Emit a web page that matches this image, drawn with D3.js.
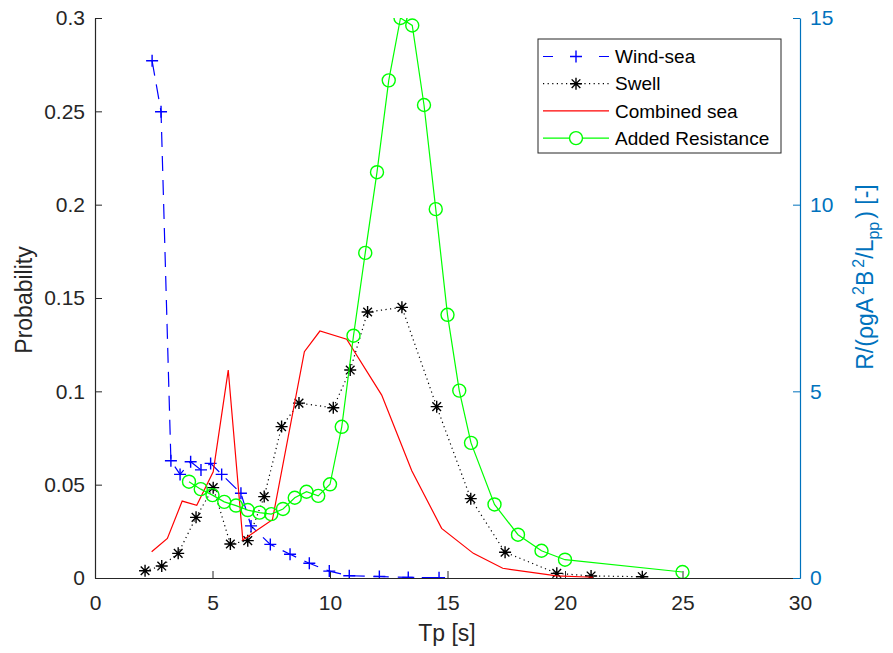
<!DOCTYPE html>
<html>
<head>
<meta charset="utf-8">
<script src="https://cdn.jsdelivr.net/npm/d3@7"></script>
<style>
  body { margin: 0; background: #fff; }
  svg { display: block; font-family: "Liberation Sans", Arial, Helvetica, sans-serif; }
  .axis text { font-size: 21px; }
</style>
</head>
<body>
<div id="chart"></div>
<script>
const width = 893;
const height = 653;

// Wind-sea
const windTp = [2.43, 2.81, 3.23, 3.62, 4.07, 4.51, 4.92, 5.39, 6.21, 6.64, 7.46, 8.30, 9.12, 9.97, 10.82, 12.10, 13.33, 14.64];
const windP = [0.2771, 0.2498, 0.0628, 0.0555, 0.0623, 0.0579, 0.0614, 0.0555, 0.0454, 0.0279, 0.0180, 0.0127, 0.0079, 0.0037, 0.0012, 0.0008, 0.0003, 0.0002];

// Swell
const swellTp = [2.13, 2.84, 3.54, 4.30, 5.03, 5.76, 6.50, 7.20, 7.94, 8.68, 10.14, 10.86, 11.60, 13.06, 14.54, 15.99, 17.45, 19.65, 21.11, 23.29];
const swellP = [0.0039, 0.0064, 0.0132, 0.0325, 0.0484, 0.0182, 0.0200, 0.0436, 0.0811, 0.0937, 0.0912, 0.1114, 0.1425, 0.1450, 0.0918, 0.0425, 0.0138, 0.0025, 0.0011, 0.0007];

// Combined sea
const combTp = [2.41, 3.08, 3.71, 4.33, 5.03, 5.67, 6.29, 7.55, 8.91, 9.57, 10.71, 12.20, 13.48, 14.75, 16.10, 17.35, 19.65, 21.19];
const combP = [0.0141, 0.0212, 0.0412, 0.0389, 0.0569, 0.1114, 0.0204, 0.0312, 0.1212, 0.1323, 0.1279, 0.0980, 0.0575, 0.0266, 0.0132, 0.0052, 0.0011, 0.0004];

// Added resistance (right axis)
const resTp = [4, 4.5, 5, 5.5, 6, 6.5, 7, 7.5, 8, 8.5, 9, 9.5, 10, 10.5, 11, 11.5, 12, 12.5, 13, 13.5, 14, 14.5, 15, 15.5, 16, 17, 18, 19, 20, 25];
const resR = [2.58, 2.38, 2.22, 2.04, 1.94, 1.82, 1.75, 1.71, 1.85, 2.15, 2.31, 2.20, 2.51, 4.05, 6.49, 8.71, 10.87, 13.33, 15.0, 14.8, 12.67, 9.88, 7.05, 5.02, 3.62, 1.97, 1.16, 0.73, 0.49, 0.16];

const xTicks = [0, 5, 10, 15, 20, 25, 30];
const yLeftTicks = [0, 0.05, 0.1, 0.15, 0.2, 0.25, 0.3];
const yRightTicks = [0, 5, 10, 15];

const legendNames = ["Wind-sea", "Swell", "Combined sea", "Added Resistance"];

const axisGray = "#262626";
const axisBlue = "#0072BD";

const xScale = d3.scaleLinear().domain([0, 30]).range([95, 800]);
const yLeft = d3.scaleLinear().domain([0, 0.3]).range([578, 18]);
const yRight = d3.scaleLinear().domain([0, 15]).range([578, 18]);

const zip = (xs, ys) => xs.map((x, i) => ({ x: x, y: ys[i] }));
const wind = zip(windTp, windP);
const swell = zip(swellTp, swellP);
const comb = zip(combTp, combP);
const res = zip(resTp, resR);

const lineLeft = d3.line().x(d => xScale(d.x)).y(d => yLeft(d.y));
const lineRight = d3.line().x(d => xScale(d.x)).y(d => yRight(d.y));

function plusPath(s) {
  return `M${-s},0H${s}M0,${-s}V${s}`;
}
function starPath(s) {
  const k = s * 0.72;
  return `M${-s},0H${s}M0,${-s}V${s}M${-k},${-k}L${k},${k}M${-k},${k}L${k},${-k}`;
}

const svg = d3.select("#chart").append("svg")
  .attr("width", width)
  .attr("height", height);

svg.append("defs").append("clipPath")
  .attr("id", "plotclip")
  .append("rect")
  .attr("x", 95).attr("y", 18)
  .attr("width", 705).attr("height", 560);

// axes
const fmtLeft = d => d === 0 ? "0" : String(+d.toFixed(2));

const gx = svg.append("g")
  .attr("class", "axis")
  .attr("transform", "translate(0,578)")
  .call(d3.axisBottom(xScale).tickValues(xTicks).tickSizeInner(-7).tickSizeOuter(0).tickPadding(17));

const gyl = svg.append("g")
  .attr("class", "axis")
  .attr("transform", "translate(95,0)")
  .call(d3.axisLeft(yLeft).tickValues(yLeftTicks).tickFormat(fmtLeft).tickSizeInner(-7).tickSizeOuter(0).tickPadding(10));

const gyr = svg.append("g")
  .attr("class", "axis")
  .attr("transform", "translate(800,0)")
  .call(d3.axisRight(yRight).tickValues(yRightTicks).tickSizeInner(-7).tickSizeOuter(0).tickPadding(10));

[gx, gyl].forEach(g => {
  g.select(".domain").attr("stroke", axisGray).attr("stroke-width", 1.2);
  g.selectAll(".tick line").attr("stroke", axisGray).attr("stroke-width", 1);
  g.selectAll("text").attr("fill", axisGray).attr("font-family", null);
});
gyr.select(".domain").attr("stroke", axisBlue).attr("stroke-width", 1.2);
gyr.selectAll(".tick line").attr("stroke", axisBlue);
gyr.selectAll("text").attr("fill", axisBlue).attr("font-family", null);

// data
const plot = svg.append("g").attr("clip-path", "url(#plotclip)");

plot.append("path")
  .attr("d", lineLeft(wind))
  .attr("fill", "none")
  .attr("stroke", "#0000ff")
  .attr("stroke-width", 1.2)
  .attr("stroke-dasharray", "15,9");

plot.selectAll(".windpt")
  .data(wind)
  .enter()
  .append("path")
  .attr("class", "windpt")
  .attr("transform", d => `translate(${xScale(d.x)},${yLeft(d.y)})`)
  .attr("d", plusPath(6))
  .attr("stroke", "#0000ff")
  .attr("stroke-width", 1.4);

plot.append("path")
  .attr("d", lineLeft(swell))
  .attr("fill", "none")
  .attr("stroke", "#000")
  .attr("stroke-width", 1.2)
  .attr("stroke-dasharray", "1.2,3.4");

plot.selectAll(".swellpt")
  .data(swell)
  .enter()
  .append("path")
  .attr("class", "swellpt")
  .attr("transform", d => `translate(${xScale(d.x)},${yLeft(d.y)})`)
  .attr("d", starPath(6))
  .attr("stroke", "#000")
  .attr("stroke-width", 1.4);

plot.append("path")
  .attr("d", lineLeft(comb))
  .attr("fill", "none")
  .attr("stroke", "#ff0000")
  .attr("stroke-width", 1.2);

plot.append("path")
  .attr("d", lineRight(res))
  .attr("fill", "none")
  .attr("stroke", "#00ff00")
  .attr("stroke-width", 1.2);

plot.selectAll(".respt")
  .data(res)
  .enter()
  .append("circle")
  .attr("class", "respt")
  .attr("cx", d => xScale(d.x))
  .attr("cy", d => yRight(d.y))
  .attr("r", 6.5)
  .attr("fill", "none")
  .attr("stroke", "#00ff00")
  .attr("stroke-width", 1.4);

// axis labels
svg.append("text")
  .attr("x", 447).attr("y", 641)
  .attr("text-anchor", "middle")
  .attr("font-size", 23)
  .attr("fill", axisGray)
  .text("Tp [s]");

svg.append("text")
  .attr("transform", "translate(32,300) rotate(-90)")
  .attr("text-anchor", "middle")
  .attr("font-size", 23)
  .attr("fill", axisGray)
  .text("Probability");

const rl = svg.append("text")
  .attr("transform", "translate(873,277) rotate(-90)")
  .attr("text-anchor", "middle")
  .attr("font-size", 23)
  .attr("fill", axisBlue);
rl.append("tspan").text("R/(\u03C1gA");
rl.append("tspan").attr("font-size", 16).attr("dy", -9).attr("dx", 3).text("2");
rl.append("tspan").attr("dy", 9).text("B");
rl.append("tspan").attr("font-size", 16).attr("dy", -9).attr("dx", 3).text("2");
rl.append("tspan").attr("dy", 9).text("/L");
rl.append("tspan").attr("font-size", 16).attr("dy", 6).text("pp");
rl.append("tspan").attr("dy", -6).attr("dx", 3).text(") [-]");

// legend
const legend = svg.append("g");
legend.append("rect")
  .attr("x", 538).attr("y", 39)
  .attr("width", 243).attr("height", 114)
  .attr("fill", "#fff")
  .attr("stroke", axisGray)
  .attr("stroke-width", 1);

const rowY = i => 56.5 + i * 27.2;
const lx0 = 543, lx1 = 609, lxm = 576;

legend.append("line")
  .attr("x1", lx0).attr("x2", lx1).attr("y1", rowY(0)).attr("y2", rowY(0))
  .attr("stroke", "#0000ff").attr("stroke-width", 1.2)
  .attr("stroke-dasharray", "10,18");
legend.append("path")
  .attr("transform", `translate(${lxm},${rowY(0)})`)
  .attr("d", plusPath(6))
  .attr("stroke", "#0000ff").attr("stroke-width", 1.4);

legend.append("line")
  .attr("x1", lx0).attr("x2", lx1).attr("y1", rowY(1)).attr("y2", rowY(1))
  .attr("stroke", "#000").attr("stroke-width", 1.2)
  .attr("stroke-dasharray", "1.2,3.4");
legend.append("path")
  .attr("transform", `translate(${lxm},${rowY(1)})`)
  .attr("d", starPath(6))
  .attr("stroke", "#000").attr("stroke-width", 1.4);

legend.append("line")
  .attr("x1", lx0).attr("x2", lx1).attr("y1", rowY(2)).attr("y2", rowY(2))
  .attr("stroke", "#ff0000").attr("stroke-width", 1.2);

legend.append("line")
  .attr("x1", lx0).attr("x2", lx1).attr("y1", rowY(3)).attr("y2", rowY(3))
  .attr("stroke", "#00ff00").attr("stroke-width", 1.2);
legend.append("circle")
  .attr("cx", lxm).attr("cy", rowY(3)).attr("r", 6.5)
  .attr("fill", "#fff")
  .attr("stroke", "#00ff00").attr("stroke-width", 1.4);

legend.selectAll(".ltext")
  .data(legendNames)
  .enter()
  .append("text")
  .attr("class", "ltext")
  .attr("x", 615)
  .attr("y", (d, i) => rowY(i))
  .attr("dy", "0.35em")
  .attr("font-size", 19)
  .attr("fill", "#000")
  .text(d => d);
</script>
</body>
</html>
